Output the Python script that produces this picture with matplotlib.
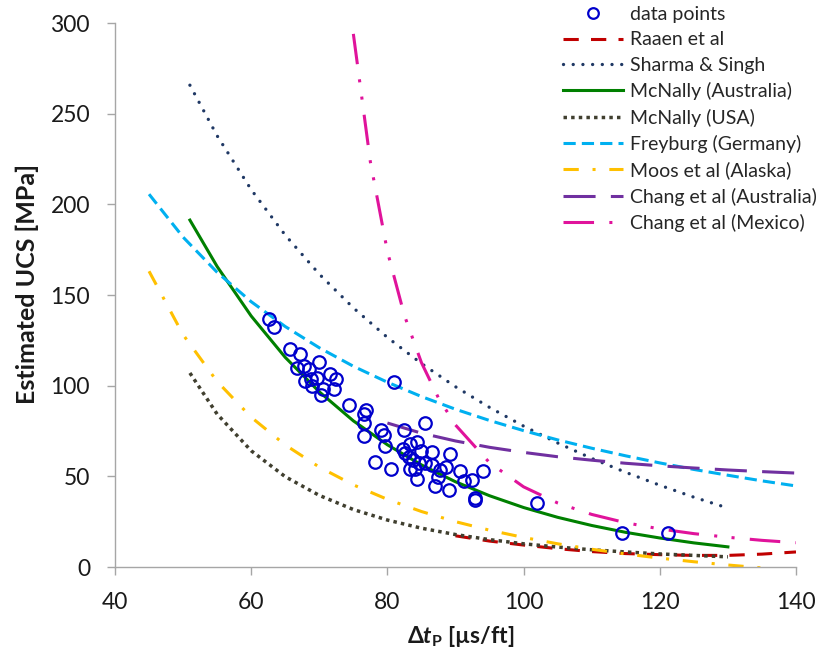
import numpy as np
import matplotlib
matplotlib.use('Agg')
import matplotlib.pyplot as plt

plt.rcParams['font.family'] = ['Lato', 'DejaVu Sans']
plt.rcParams['mathtext.fontset'] = 'custom'
plt.rcParams['mathtext.rm'] = 'Lato:bold'
plt.rcParams['mathtext.bf'] = 'Lato:bold'
plt.rcParams['mathtext.it'] = 'Lato:bold:italic'

# measured data points (dt [us/ft], UCS [MPa])
pts_dt = [62.6, 63.3, 65.7, 67.2, 70.0, 66.7, 67.8, 68.5, 71.6, 72.5, 67.9, 68.8, 69.7, 68.9,
          70.5, 72.1, 70.3, 80.9, 74.4, 76.9, 76.6, 76.6, 76.5, 79.0, 79.5, 82.4, 85.5, 79.6,
          78.2, 80.6, 82.3, 83.3, 84.4, 82.6, 85.0, 86.5, 89.2, 83.8, 84.6, 83.3, 85.5, 86.5,
          87.7, 88.6, 84.1, 84.4, 87.5, 87.0, 89.0, 90.6, 92.4, 91.2, 94.0, 92.9, 92.8, 83.1,
          102.0, 114.4, 121.2]
pts_ucs = [136.5, 132.4, 120.2, 117.5, 113.3, 109.5, 110.6, 109.2, 106.5, 103.7, 102.3, 103.7,
           104.5, 99.8, 97.9, 98.2, 95.1, 101.8, 89.1, 86.6, 84.1, 79.2, 72.5, 75.3, 72.8, 75.6,
           79.2, 66.5, 57.9, 53.8, 64.8, 68.1, 68.7, 62.6, 63.7, 63.4, 62.3, 59.0, 57.1, 54.3,
           57.1, 56.3, 53.5, 55.4, 53.8, 48.3, 49.6, 44.7, 42.7, 52.7, 48.0, 47.2, 53.2, 38.3,
           37.2, 60.9, 35.1, 18.9, 18.9]

# correlation curves
raaen_dt = [90, 95, 100, 105, 110, 115, 120, 125, 130, 135, 140]
raaen_ucs = [17.2, 14.3, 12.1, 10.1, 8.5, 7.4, 6.8, 6.4, 6.4, 7.1, 8.3]

sharma_dt = [51, 55, 60, 65, 70, 75, 80, 85, 90, 95, 100, 105, 110, 115, 120, 125, 130]
sharma_ucs = [265.7, 237.8, 208.1, 183.0, 161.5, 142.9, 126.6, 112.2, 99.4, 88.0, 77.7,
              68.4, 59.9, 52.2, 45.1, 38.5, 32.5]

mcn_au_dt = [51, 55, 60, 65, 70, 75, 80, 85, 90, 95, 100, 105, 110, 115, 120, 125, 130]
mcn_au_ucs = [191.3, 165.7, 138.4, 115.6, 96.6, 80.6, 67.4, 56.3, 47.0, 39.3, 32.8, 27.4,
              22.9, 19.1, 16.0, 13.3, 11.1]

mcn_us_dt = [51, 55, 60, 65, 70, 75, 80, 85, 90, 95, 100, 105, 110, 115, 120, 125, 130]
mcn_us_ucs = [107.0, 84.3, 64.1, 49.8, 39.5, 31.7, 25.9, 21.4, 17.9, 15.1, 12.8, 11.0, 9.5,
              8.3, 7.2, 6.4, 5.6]

frey_dt = [45, 50, 55, 60, 65, 70, 75, 80, 85, 90, 95, 100, 105, 110, 115, 120, 125, 130, 135, 140]
frey_ucs = [205.6, 181.9, 162.5, 146.3, 132.6, 120.9, 110.7, 101.9, 94.0, 87.0, 80.8, 75.2,
            70.1, 65.5, 61.3, 57.4, 53.8, 50.6, 47.5, 44.7]

moos_dt = [45, 50, 55, 60, 65, 70, 75, 80, 85, 90, 95, 100, 105, 110, 115, 120, 125, 130, 135, 140]
moos_ucs = [163.1, 128.1, 102.3, 82.6, 67.3, 55.1, 45.3, 37.3, 30.6, 25.0, 20.3, 16.3, 12.8,
            9.8, 7.2, 4.9, 2.9, 1.1, -0.5, -2.0]

chang_au_dt = [80, 85, 90, 95, 100, 105, 110, 115, 120, 125, 130, 135, 140]
chang_au_ucs = [79.4, 73.8, 69.5, 66.0, 63.2, 60.8, 58.9, 57.2, 55.8, 54.6, 53.5, 52.6, 51.8]

chang_mx_dt = [75, 77.5, 80, 82.5, 85, 87.5, 90, 95, 100, 105, 110, 115, 120, 125, 130, 135, 140]
chang_mx_ucs = [294.0, 223.4, 174.0, 138.7, 112.7, 93.2, 78.3, 57.5, 44.2, 35.3, 29.0, 24.4,
                21.0, 18.4, 16.4, 14.7, 13.4]

fig = plt.figure(figsize=(8.32, 6.70), dpi=100)
ax = fig.add_axes([115/832, 1-567/670, 681/832, 544/670])

lw = 2.2
ax.plot(pts_dt, pts_ucs, 'o', ms=9, mfc='none', mec='#0000CC', mew=1.6, label='data points', zorder=5)
ax.plot(raaen_dt, raaen_ucs, color='#C00000', lw=lw, ls=(0, (5, 4)), label='Raaen et al')
ax.plot(sharma_dt, sharma_ucs, color='#1F3864', lw=lw + 0.2, ls=(0, (0.01, 2.9)),
        dash_capstyle='round', label='Sharma & Singh')
ax.plot(mcn_au_dt, mcn_au_ucs, color='#008000', lw=lw, label='McNally (Australia)')
ax.plot(mcn_us_dt, mcn_us_ucs, color='#403F2F', lw=lw + 0.3, ls=(0, (1, 1.2)), label='McNally (USA)')
ax.plot(frey_dt, frey_ucs, color='#00B0F0', lw=lw, ls=(0, (4, 2)), label='Freyburg (Germany)')
ax.plot(moos_dt, moos_ucs, color='#FFC000', lw=lw, ls=(0, (5, 4.5, 1, 4.5)), label='Moos et al (Alaska)')
ax.plot(chang_au_dt, chang_au_ucs, color='#7030A0', lw=lw, ls=(0, (10.5, 5)), label='Chang et al (Australia)')
ax.plot(chang_mx_dt, chang_mx_ucs, color='#E0139B', lw=lw, ls=(0, (10, 5, 1, 4.7, 1, 5)),
        label='Chang et al (Mexico)')

ax.set_xlim(40, 140)
ax.set_ylim(0, 300)
ax.set_xticks([40, 60, 80, 100, 120, 140])
ax.set_yticks([0, 50, 100, 150, 200, 250, 300])
for s in ['top', 'right']:
    ax.spines[s].set_visible(False)
for s in ['left', 'bottom']:
    ax.spines[s].set_color('#A6A6A6')
    ax.spines[s].set_linewidth(1.0)
ax.tick_params(axis='both', direction='out', length=6, width=1.0, color='#A6A6A6',
               labelsize=16.5, labelcolor='#1a1a1a')
ax.tick_params(axis='y', pad=12)
ax.tick_params(axis='x', pad=12)

ax.set_ylabel('Estimated UCS [MPa]', fontsize=18, fontweight='bold', color='#1a1a1a')
ax.yaxis.set_label_coords(-0.112, 0.52)
ax.set_xlabel(r'$\Delta \mathit{t}_{\mathrm{P}}$ [µs/ft]', fontsize=16.5, fontweight='bold', color='#1a1a1a')
ax.xaxis.set_label_coords(0.508, -0.105)

leg = fig.legend(loc='upper left', bbox_to_anchor=(563/832, 1 - 6/670), frameon=False,
                 fontsize=14, handlelength=3.1, handletextpad=0.35, labelspacing=0.43,
                 borderpad=0, borderaxespad=0, markerscale=0.85)
for t in leg.get_texts():
    t.set_color('#262626')

fig.savefig('out.png', dpi=100)
